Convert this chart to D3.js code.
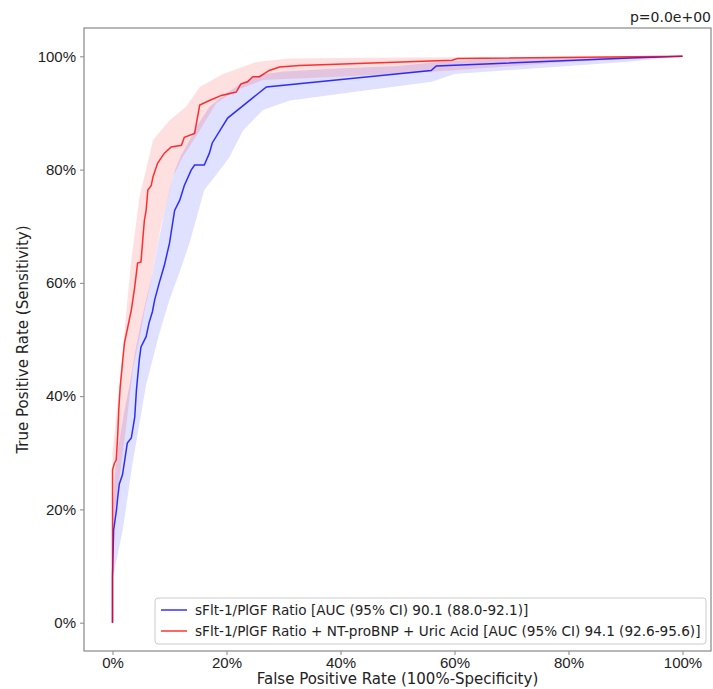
<!DOCTYPE html>
<html>
<head>
<meta charset="utf-8">
<script src="https://cdn.jsdelivr.net/npm/d3@7"></script>
<style>
  body { margin: 0; background: #fff; }
  svg { font-family: "DejaVu Sans", sans-serif; }
</style>
</head>
<body>
<div id="vis"></div>
<script>
const FRAME_WIDTH = 713;
const FRAME_HEIGHT = 689;
const MARGINS = {left: 84, right: 2, top: 28, bottom: 38};

// ROC curves, [fpr %, tpr %]
const ratioRoc = [[0,0],[0,8.1],[0.2,16.4],[0.7,19.9],[0.9,22],[1.2,24.5],[1.75,26.1],[2.6,31.7],[3.3,32.6],
  [3.9,36.3],[4.2,41.1],[4.7,46.4],[5,48.7],[5.9,50.5],[6.4,52.9],[7,54.9],[7.4,57],[8.2,60],[9.1,63.1],
  [10,67],[10.9,72.8],[11.8,74.6],[12.6,77.2],[13.8,79.9],[14.4,80.8],[16.1,80.8],[17,82.9],[17.5,84.7],
  [20.2,89.1],[27,94.6],[55.9,97.5],[56.8,98.3],[90.7,99.7],[100,100]];

const comboRoc = [[0,0],[0,27],[0.35,28.2],[0.65,28.7],[0.9,32.8],[1.1,37.6],[1.35,41.6],[1.8,46.4],[2.1,49.4],
  [2.7,52.3],[3.3,55.2],[3.9,59.3],[4.4,63.5],[5,63.7],[5.3,67.5],[5.6,71.1],[5.9,72.8],[6.2,76.4],[6.8,77.2],
  [7.1,78.7],[7.9,81.1],[9.1,82.9],[10.3,84],[12.1,84.3],[12.6,85.7],[14.4,86.4],[15.3,91.4],[17,92.2],
  [19.1,93.1],[21.7,93.7],[22.5,95.1],[23.7,95.5],[24.6,96.4],[25.8,96.4],[27.5,97.5],[29.3,98.1],
  [32.8,98.4],[59.6,99.3],[60.5,99.6],[100,100]];

// confidence bands, [fpr %, tpr %]
const ratioUpper = [[0,8],[0,20],[0.5,27],[1,31],[2,37],[3,42],[4,48],[5,53],[6,57.5],[7,61.5],[8,67],[9,72],
  [10,76.5],[11,80],[12,82.5],[13.5,85.2],[15,88],[17,91.1],[20,93.5],[23,95.5],[26,96.8],[30,97.3],[40,97.9],
  [50,98.3],[57,99],[65,99.5],[80,99.8],[100,100]];
const ratioLower = [[0,8],[0.35,9.3],[1.8,16.4],[3.5,28],[4.7,35],[5.9,42],[8.2,51],[10,57],[11.8,62],[13.5,67],
  [16.1,76.4],[17.9,78.7],[20.5,82.2],[22.9,86.9],[26.4,90.5],[31.1,92.2],[40,93.4],[56,95.5],[60,96.9],
  [90,99],[100,100]];

const comboUpper = [[0,16],[0,30],[0.65,36.4],[1.8,48],[2.7,58],[3.3,64],[4.7,75],[7.1,85.2],[10,88.7],
  [12.9,91.1],[15.3,94.6],[19.4,96.9],[25.2,99],[31,99.6],[50,99.8],[100,100]];
const comboLower = [[0,16],[0.9,23],[2.4,34.6],[3.6,45],[4.7,50],[5.6,55],[6.8,60.5],[8.5,70],[10.6,78.7],
  [12.3,82.2],[15.3,86.9],[18.2,91.7],[21.7,94],[26.4,95.8],[39.8,96.4],[59.6,97.5],[80,99],[100,100]];

const xTicks = [0, 20, 40, 60, 80, 100];
const yTicks = [0, 20, 40, 60, 80, 100];

const legendLabels = [
  "sFlt-1/PlGF Ratio [AUC (95% CI) 90.1 (88.0-92.1)]",
  "sFlt-1/PlGF Ratio + NT-proBNP + Uric Acid [AUC (95% CI) 94.1 (92.6-95.6)]"
];
const colors = ["#0000ff", "#ff0000"];

const VIS_WIDTH = FRAME_WIDTH - MARGINS.left - MARGINS.right;
const VIS_HEIGHT = FRAME_HEIGHT - MARGINS.top - MARGINS.bottom;

const svg = d3.select("#vis").append("svg")
  .attr("width", FRAME_WIDTH)
  .attr("height", FRAME_HEIGHT);

const X_SCALE = d3.scaleLinear().domain([-5, 105]).range([0, VIS_WIDTH]);
const Y_SCALE = d3.scaleLinear().domain([-5, 105]).range([VIS_HEIGHT, 0]);

const g = svg.append("g")
  .attr("transform", "translate(" + MARGINS.left + "," + MARGINS.top + ")");

// bands: upper edge then lower edge reversed
function bandPath(upper, lower) {
  const pts = upper.concat(lower.slice().reverse());
  return d3.line().x(d => X_SCALE(d[0])).y(d => Y_SCALE(d[1]))(pts) + "Z";
}

g.append("path")
  .attr("d", bandPath(ratioUpper, ratioLower))
  .attr("fill", "#0000ff").attr("fill-opacity", 0.12);
g.append("path")
  .attr("d", bandPath(comboUpper, comboLower))
  .attr("fill", "#ff0000").attr("fill-opacity", 0.12);

const line = d3.line().x(d => X_SCALE(d[0])).y(d => Y_SCALE(d[1]));

[ratioRoc, comboRoc].forEach((data, i) => {
  g.append("path")
    .datum(data)
    .attr("fill", "none")
    .attr("stroke", colors[i])
    .attr("stroke-opacity", 0.8)
    .attr("stroke-width", 1.5)
    .attr("d", line);
});

// axes
const xAxis = g.append("g")
  .attr("transform", "translate(0," + VIS_HEIGHT + ")")
  .call(d3.axisBottom(X_SCALE).tickValues(xTicks).tickFormat(d => d + "%").tickSize(4).tickPadding(2));
const yAxis = g.append("g")
  .call(d3.axisLeft(Y_SCALE).tickValues(yTicks).tickFormat(d => d + "%").tickSize(4).tickPadding(4));

[xAxis, yAxis].forEach(a => {
  a.select(".domain").remove();
  a.selectAll("line").attr("stroke", "#888");
  a.selectAll("text").attr("font-size", "15px").attr("fill", "#222");
});

// frame
g.append("rect")
  .attr("width", VIS_WIDTH).attr("height", VIS_HEIGHT)
  .attr("fill", "none").attr("stroke", "#888").attr("stroke-width", 1.2);

svg.append("text")
  .attr("x", MARGINS.left + VIS_WIDTH / 2).attr("y", FRAME_HEIGHT - 5)
  .attr("text-anchor", "middle").attr("font-size", "15px").attr("fill", "#222")
  .text("False Positive Rate (100%-Specificity)");

svg.append("text")
  .attr("transform", "translate(28," + (MARGINS.top + VIS_HEIGHT / 2) + ") rotate(-90)")
  .attr("text-anchor", "middle").attr("font-size", "15px").attr("fill", "#222")
  .text("True Positive Rate (Sensitivity)");

svg.append("text")
  .attr("x", MARGINS.left + VIS_WIDTH).attr("y", 22)
  .attr("text-anchor", "end").attr("font-size", "14px").attr("fill", "#222")
  .text("p=0.0e+00");

// legend
const legend = g.append("g").attr("transform", "translate(" + (155 - MARGINS.left) + "," + (598 - MARGINS.top) + ")");
legend.append("rect")
  .attr("width", 551).attr("height", 46).attr("rx", 3)
  .attr("fill", "#fff").attr("fill-opacity", 0.8)
  .attr("stroke", "#ccc");
legendLabels.forEach((t, i) => {
  legend.append("line")
    .attr("x1", 6).attr("x2", 32).attr("y1", 12 + i * 21).attr("y2", 12 + i * 21)
    .attr("stroke", colors[i]).attr("stroke-opacity", 0.8).attr("stroke-width", 1.5);
  legend.append("text")
    .attr("x", 40).attr("y", 17 + i * 21)
    .attr("font-size", "13.6px").attr("fill", "#222")
    .text(t);
});
</script>
</body>
</html>
